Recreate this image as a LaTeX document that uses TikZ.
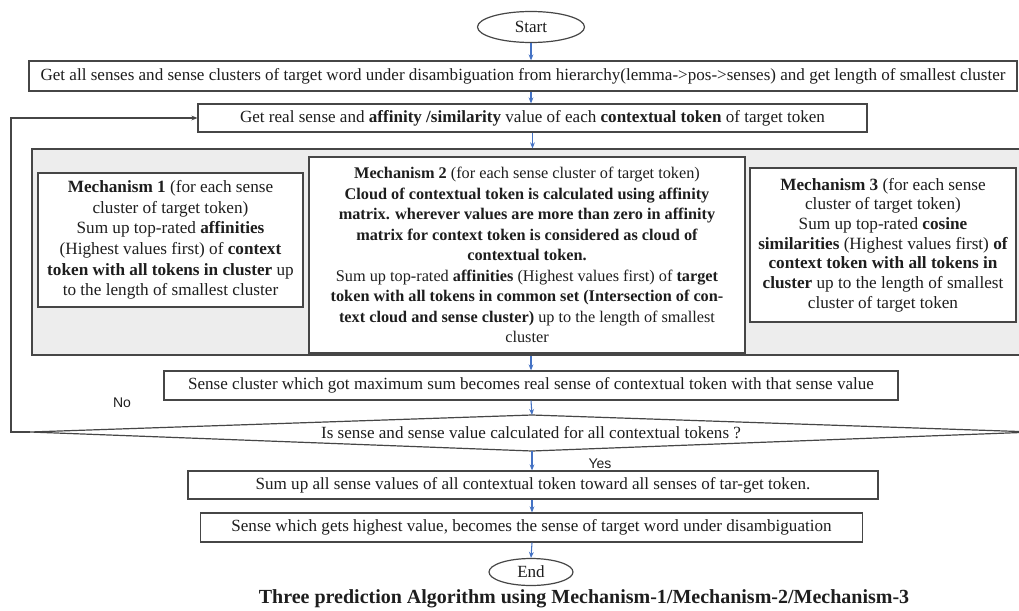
\documentclass[tikz,border=0pt]{standalone}
\usepackage{fontspec}
\setmainfont{Liberation Serif}
\newfontfamily\labsans{Liberation Sans}
\usetikzlibrary{arrows.meta,shapes.geometric}
\definecolor{grayfill}{RGB}{237,237,237}
\definecolor{arrblue}{RGB}{68,114,196}
\definecolor{edgegray}{RGB}{70,70,70}
\definecolor{txt}{RGB}{30,30,30}
\tikzset{
  px/.style={x=0.75pt,y=-0.75pt},
  flowbox/.style={draw=edgegray,line width=0.9pt,fill=white,inner sep=0pt,text=txt,font=\fontsize{12.8}{14}\selectfont},
  mechbox/.style={draw=edgegray,line width=0.9pt,fill=white,inner sep=0pt,align=center,text=txt},
  term/.style={ellipse,draw=edgegray,line width=0.9pt,fill=white,inner sep=0pt,text=txt,font=\fontsize{12.8}{14}\selectfont},
  flowarr/.style={draw=arrblue,line width=0.8pt,-{Stealth[length=4.5pt,width=3.6pt]}},
  looparr/.style={draw=edgegray,line width=0.8pt,-{Stealth[length=4.5pt,width=3.6pt]}},
  sidelab/.style={text=txt,font=\labsans\fontsize{10.5}{12}\selectfont,inner sep=0pt}
}
\begin{document}
\begin{tikzpicture}[px]
\useasboundingbox (0,0) rectangle (1019,610);
\clip (0,0) rectangle (1019,610);
\fill[white] (0,0) rectangle (1019,610);

\node[term,minimum width=80.25pt,minimum height=23.25pt] (start) at (531,27) {Start};
\node[flowbox,minimum width=741pt,minimum height=22.5pt] (b1) at (523,76)
  {Get all senses and sense clusters of target word under disambiguation from hierarchy(lemma->pos->senses) and get length of smallest cluster};
\node[flowbox,minimum width=501.75pt,minimum height=21pt] (b2) at (532.5,118)
  {Get real sense and \textbf{affinity /similarity} value of each \textbf{contextual token} of target token};

\node[draw=edgegray,line width=0.9pt,fill=grayfill,minimum width=747pt,minimum height=154.5pt,inner sep=0pt] (gray) at (530,252) {};

\node[mechbox,font=\fontsize{12.9}{15.5}\selectfont,minimum width=198.75pt,minimum height=100.5pt] (m1) at (170.5,240)
  {\textbf{Mechanism 1} (for each sense\\ cluster of target token)\\ Sum up top-rated \textbf{affinities}\\ (Highest values first) of \textbf{context}\\ \textbf{token with all tokens in cluster} up\\ to the length of smallest cluster};
\node[mechbox,font=\fontsize{12.2}{15.4}\selectfont,minimum width=327pt,minimum height=147pt] (m2) at (527,255)
  {\textbf{Mechanism 2} (for each sense cluster of target token)\\ \textbf{Cloud of contextual token is calculated using affinity}\\ \textbf{matrix. wherever values are more than zero in affinity}\\ \textbf{matrix for context token is considered as cloud of}\\ \textbf{contextual token.}\\ Sum up top-rated \textbf{affinities} (Highest values first) of \textbf{target}\\ \textbf{token with all tokens in common set (Intersection of con-}\\ \textbf{text cloud and sense cluster)} up to the length of smallest\\ cluster};
\node[mechbox,font=\fontsize{12.9}{14.8}\selectfont,minimum width=199.5pt,minimum height=115.5pt] (m3) at (883,245)
  {\textbf{Mechanism 3} (for each sense\\ cluster of target token)\\ Sum up top-rated \textbf{cosine}\\ \textbf{similarities} (Highest values first) \textbf{of}\\ \textbf{context token with all tokens in}\\ \textbf{cluster} up to the length of smallest\\ cluster of target token};

\node[flowbox,minimum width=550.5pt,minimum height=21.75pt] (b3) at (531,385.5)
  {Sense cluster which got maximum sum becomes real sense of contextual token with that sense value};

\coordinate (dl) at (30,432);
\coordinate (dt) at (532,415);
\coordinate (dr) at (1034,432);
\coordinate (db) at (532,451);
\draw[edgegray,line width=0.9pt,fill=white] (dl) -- (dt) -- (dr) -- (db) -- cycle;
\node[text=txt,font=\fontsize{12.8}{14}\selectfont,inner sep=0pt] (dec) at (531,433)
  {Is sense and sense value calculated for all contextual tokens ?};

\node[flowbox,minimum width=517.5pt,minimum height=21pt] (b4) at (533,485)
  {Sum up all sense values of all contextual token toward all senses of tar-get token.};
\node[flowbox,minimum width=496.5pt,minimum height=21.75pt] (b5) at (531.5,527.5)
  {Sense which gets highest value, becomes the sense of target word under disambiguation};
\node[term,minimum width=63pt,minimum height=20.25pt] (end) at (531,572) {End};

\node[text=txt,font=\bfseries\fontsize{15}{17}\selectfont,inner sep=0pt] (cap) at (584,599)
  {Three prediction Algorithm using Mechanism-1/Mechanism-2/Mechanism-3};

\node[sidelab] (no) at (122,403) {No};
\node[sidelab] (yes) at (600,464) {Yes};

\draw[flowarr] (start.south) -- (start.south |- b1.north);
\draw[flowarr] (start.south |- b1.south) -- (start.south |- b2.north);
\draw[flowarr] (b2.south) -- (b2.south |- gray.north);
\draw[flowarr] (b3.north |- gray.south) -- (b3.north);
\draw[flowarr] (b3.south) -- (dt);
\draw[flowarr] (db) -- (db |- b4.north);
\draw[flowarr] (db |- b4.south) -- (db |- b5.north);
\draw[flowarr] (db |- b5.south) -- (end.north);

\coordinate (lc) at (11,432);
\draw[looparr] (dl) -- (lc) |- (b2.west);
\end{tikzpicture}
\end{document}
